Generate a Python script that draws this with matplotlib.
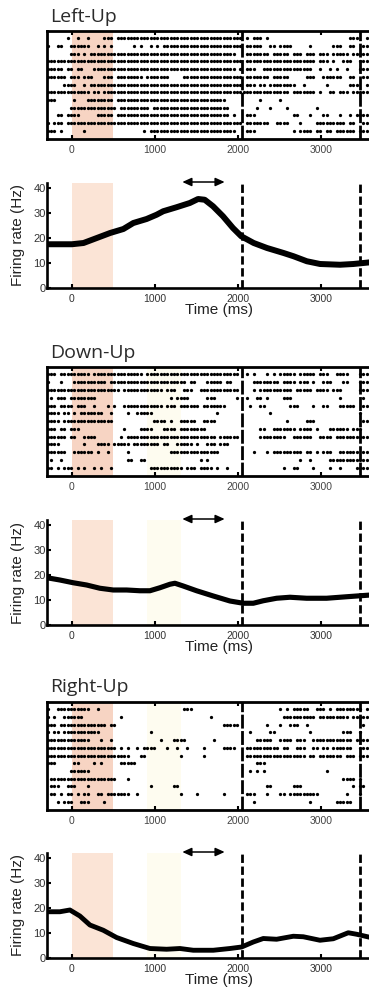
import numpy as np
import matplotlib
matplotlib.use("Agg")
import matplotlib.pyplot as plt

# ---------------- data ----------------
CONDITIONS = ["Left-Up", "Down-Up", "Right-Up"]

# raster: each trial lists occupied 40-ms bins (bin 0 starts at -300 ms); "a-b" = consecutive spikes
BIN_MS = 40
T_START = -300

LEFT_UP_TRIALS = [
    "6 9 12 17-19 21-58 60 62-64 66 91-93 96-97",
    "0 3-4 7-12 15 17 19 26 28 31 33 35-58 60-64 67-68 70-73 79 86-88 91-92 95-97",
    "7-9 11 13-56 60-66 68-72 74-76 78-80 82-84 86-90 92-97",
    "0-58 60-80 82-84 86 89-91 94-97",
    "0-4 6-7 9-10 14-56 58 60-62 65-79 82 85 87 90 94-97",
    "0-5 7-9 11-13 17-19 21-28 30-36 41-58 60-66 68-72 78-80 83-88 91-92 95-97",
    "5-8 11 13-58 60-62 64-65 67-74 77 84 91-93 96-97",
    "0-12 14-15 17-59 60-72 74-80 82 85-86 88-90 92-97",
    "0-2 8 12-19 21-53 64 70",
    "7-20 22-30 32-54 63 67 72 81",
    "3-4 6-9 15-19 21-54 56 60-62 74-75 79 83-84 88 91 93-97",
    "0 2-4 6-58 60-66 69-72 76 81-89 91-92 95-97",
    "0-2 4 11 29 31-56 60-62 74 76-79 81-82 84-85 87-92 94-97",
]

DOWN_UP_TRIALS = [
    "0-2 4-12 14-28 30-57 60 62 66 68 70-74 76-80 82-84 87-90 94-97",
    "0 4 8-17 19-41 43-44 48-52 54-55 62-69 71-74 76-78 80 83-85 89-90 94-97",
    "0-21 23-34 36-38 41-43 46-57 62 64-73 75-79 81-84 86-88 94-97",
    "1 3-5 7-14 37 39-42 48-50 57 60 63-64 66 71-73 88 95",
    "0-2 4-7 9-11 14 18 20 23-34 36-38 40-45 47-53 61 64-65 73-75 80 83-84 88-92 95-97",
    "0-3 5-6 8 10-16 19 24 27-31 51 67 94",
    "0-3 5-19 32-35 37 40-44 47-50 72 78-80 95-97",
    "0-2 4-5 7-9 23 28-31 35-38 40-47 64-65 68-74 76-79 81 85-90 92-94",
    "0-5 7-8 11-14 22 24-50 52-57 64-71 74-79 82-85 87-97",
    "0-3 11 15-18 20-24 26-33 35-36 39-43 45 48-50 52-54",
    "0-5 8-13 15 18 24 37-51 62 66 68-76 78-79 81 83-85 88-93 95-97",
    "1 4 24-25 28-29 46 48 76 79 85-97",
    "0-1 3 5-7 9 11 14 16 19 31-40 42-44 46-49 51 54 71 74-75 80 85 88 93-97",
]

RIGHT_UP_TRIALS = [
    "0 3-12 15 41-43 70 72 74-78 81-83 85 87-94 96-97",
    "0 2 5-10 22 49 71-80 82-90 92-97",
    "0-2 4-17 19-20 53-57 66 70 73-75 78 95",
    "0 2-3 5-15 31 61 67-68 79 89-91 94",
    "0-12 16 19 34 38-41 50 63-67 70-73 75-77 80-91 93-97",
    "0-20 22 24 27 29-32 36 39 42 47 53-56 60-69 71-72 75-77 80-81 83-84 86-91 94-97",
    "0-24 28-29 40 47 60-77 79-80 82-88 90-92 94-97",
    "0-2 8-9 14 16 22-26 63-65",
    "7-12 61 63 65 84",
    "1-20 24 89-92 94",
    "1-3 6-8 12 31 38-39 66-67 74-76 92 94-95",
    "1-2 4 6-7 9 11-12 15-16 18-24 27 40 45 53 60-62 66 70-71 73-81 90 94",
    "3 5-7 10-12 17 62 79 87-91",
]

# firing rate curves (ms, Hz)
RATE_T_LEFT = [-300, 0, 140, 300, 460, 620, 740, 900, 1020, 1100, 1260, 1420, 1520, 1600,
               1700, 1820, 1940, 2040, 2190, 2350, 2550, 2670, 2830, 2990, 3230, 3390, 3600]
RATE_LEFT = [17.5, 17.5, 18.0, 20.0, 22.0, 23.6, 26.0, 27.6, 29.3, 30.7, 32.3, 34.0, 35.6, 35.3,
             32.7, 28.7, 24.0, 20.7, 18.0, 16.0, 14.0, 12.7, 10.7, 9.6, 9.3, 9.6, 10.3]

RATE_T_DOWN = [-300, -145, 16, 177, 337, 498, 659, 819, 940, 1060, 1181, 1241, 1341, 1502,
               1703, 1904, 2064, 2185, 2305, 2466, 2627, 2827, 3068, 3309, 3600]
RATE_DOWN = [18.9, 18.0, 16.9, 16.0, 14.7, 14.0, 14.0, 13.7, 13.7, 14.9, 16.3, 16.7, 15.6, 13.7,
             11.6, 9.6, 8.7, 8.7, 9.7, 10.7, 11.1, 10.7, 10.7, 11.3, 12.0]

RATE_T_RIGHT = [-300, -145, -24, 96, 217, 378, 538, 739, 940, 1141, 1301, 1462, 1703, 1904,
                2044, 2185, 2305, 2466, 2667, 2787, 2988, 3149, 3329, 3430, 3600]
RATE_RIGHT = [18.5, 18.5, 19.2, 16.8, 13.2, 11.1, 8.2, 5.8, 3.8, 3.5, 3.8, 3.1, 3.1, 3.8,
              4.4, 6.4, 7.8, 7.5, 8.7, 8.5, 7.1, 7.7, 10.1, 9.5, 8.2]

EVENT_TIMES = [2050, 3470]
CUE_WINDOW = (0, 500)
FAINT_WINDOW = (900, 1320)
ARROW_SPAN = (1330, 1840)
XTICKS = [0, 1000, 2000, 3000]
YTICKS = [0, 10, 20, 30, 40]
XLIM = (-300, 3850)
RATE_YLIM = (0, 42)

TRIALS = [LEFT_UP_TRIALS, DOWN_UP_TRIALS, RIGHT_UP_TRIALS]
RATES = [(RATE_T_LEFT, RATE_LEFT), (RATE_T_DOWN, RATE_DOWN), (RATE_T_RIGHT, RATE_RIGHT)]
SHOW_FAINT = [False, True, True]
RATE_LW = [4.3, 3.7, 3.5]

# ---------------- layout ----------------
W, H, DPI = 369, 993, 100
LEFT_PX = 47
AX_W = 0.9336
RASTER_PX = [(31, 139), (367, 476), (702, 810)]
RATE_PX = [(183, 288), (520, 625), (853, 958)]
TITLE_BASE_PX = [22.5, 358.5, 692.5]

plt.rcParams["font.family"] = ["Liberation Sans", "DejaVu Sans"]

fig = plt.figure(figsize=(W / DPI, H / DPI), dpi=DPI)


def rect(top, bottom):
    return [LEFT_PX / W, 1 - bottom / H, AX_W, (bottom - top) / H]


def parse_trial(s):
    bins = []
    for tok in s.split():
        if "-" in tok:
            a, b = tok.split("-")
            bins.extend(range(int(a), int(b) + 1))
        else:
            bins.append(int(tok))
    return T_START + BIN_MS * np.array(bins) + BIN_MS / 4


PINK_R = "#f7d4c3"
PINK_F = "#fbe4d6"
YELLOW = "#fefcf0"
DASH = (0, (3.0, 1.3))

for k in range(3):
    # ---- raster ----
    ax = fig.add_axes(rect(*RASTER_PX[k]))
    ax.axvspan(*CUE_WINDOW, color=PINK_R, lw=0, zorder=0)
    if SHOW_FAINT[k]:
        ax.axvspan(*FAINT_WINDOW, color=YELLOW, lw=0, zorder=0)
    for r, s in enumerate(TRIALS[k]):
        t = parse_trial(s)
        ax.scatter(t, np.full(len(t), r + 1), s=5.5, marker="o", color="black",
                   linewidths=0, zorder=2)
    for ev in EVENT_TIMES:
        ax.axvline(ev, color="black", lw=2.0, linestyle=(0, (5, 0.9)), zorder=3)
    ax.set_xlim(*XLIM)
    ax.set_ylim(14.05, 0.05)
    ax.set_yticks([])
    ax.set_xticks(XTICKS)
    ax.tick_params(axis="x", direction="in", top=True, bottom=True, length=3, width=1.5,
                   labelsize=7.5, labelcolor="#444444", pad=4.5)
    for sp in ax.spines.values():
        sp.set_linewidth(2.0)
        sp.set_zorder(5)

    # title
    fig.text(50 / W, 1 - TITLE_BASE_PX[k] / H, CONDITIONS[k], fontsize=14,
             family=["Open Sans", "DejaVu Sans"], color="#2b2b2b", va="baseline", ha="left")

    # ---- firing rate ----
    ax2 = fig.add_axes(rect(*RATE_PX[k]))
    ax2.axvspan(*CUE_WINDOW, color=PINK_F, lw=0, zorder=0)
    if SHOW_FAINT[k]:
        ax2.axvspan(*FAINT_WINDOW, color=YELLOW, lw=0, zorder=0)
    tt, rr = RATES[k]
    ax2.plot(tt, rr, color="black", lw=RATE_LW[k], solid_capstyle="round",
             solid_joinstyle="round", zorder=3)
    for ev in EVENT_TIMES:
        ax2.axvline(ev, color="black", lw=2.0, linestyle=DASH, zorder=2)
    ax2.annotate("", xy=(ARROW_SPAN[1], 42.4), xytext=(ARROW_SPAN[0], 42.4),
                 xycoords="data", annotation_clip=False,
                 arrowprops=dict(arrowstyle="<|-|>,head_length=0.55,head_width=0.25",
                                 color="black", lw=1.1, shrinkA=0, shrinkB=0,
                                 mutation_scale=10))
    ax2.set_xlim(*XLIM)
    ax2.set_ylim(*RATE_YLIM)
    ax2.set_xticks(XTICKS)
    ax2.set_yticks(YTICKS)
    ax2.spines["top"].set_visible(False)
    ax2.spines["right"].set_visible(False)
    for side in ("left", "bottom"):
        ax2.spines[side].set_linewidth(1.9)
        ax2.spines[side].set_zorder(5)
    ax2.tick_params(axis="x", direction="in", length=3, width=1.5, labelsize=7.5,
                    labelcolor="#333333", pad=4)
    ax2.tick_params(axis="y", direction="in", length=3, width=1.5, labelsize=8,
                    labelcolor="#333333", pad=1)
    ax2.set_xlabel("Time (ms)", fontsize=11, va="top", color="#222222")
    ax2.xaxis.set_label_coords(0.5, -0.145)
    ax2.set_ylabel("Firing rate (Hz)", fontsize=11, va="center", color="#222222")
    ax2.yaxis.set_label_coords(-(LEFT_PX - 18) / (AX_W * W), 0.5)

fig.savefig("out.png", dpi=DPI)
